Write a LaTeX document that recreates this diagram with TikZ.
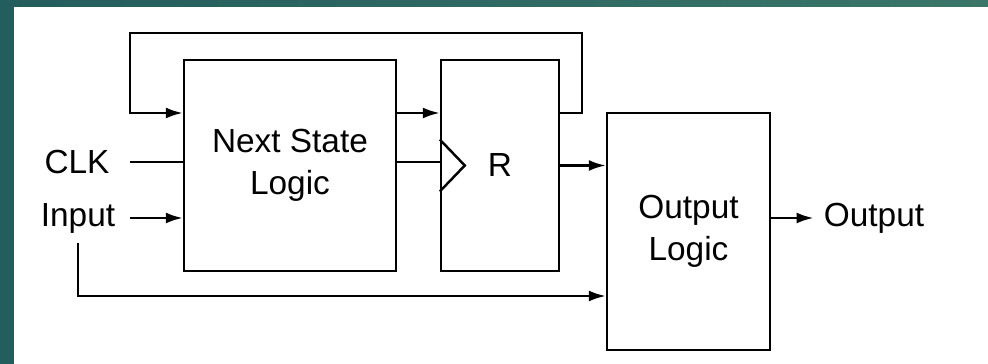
\documentclass[tikz,border=0pt]{standalone}
\usepackage{fontspec}
\setmainfont{Liberation Sans}
\usetikzlibrary{arrows.meta,calc}
\definecolor{tealdark}{HTML}{235D5D}
\definecolor{teallight}{HTML}{3B7669}
\begin{document}
\begin{tikzpicture}[
  x=0.02cm,
  y=-0.02cm,
  blk/.style={draw, line width=1.4pt, inner sep=0pt, align=center, font=\fontsize{19}{24}\selectfont},
  lbl/.style={inner sep=0.2cm, font=\fontsize{19}{24}\selectfont},
  wire/.style={line width=1.4pt},
  arr/.style={wire, -{Latex[length=0.34cm, width=0.22cm]}}
]

% background and page
\shade[left color=tealdark, right color=teallight] (0,0) rectangle (988,364);
\fill[white] (14,7) rectangle (988,364);
\useasboundingbox (0,0) rectangle (988,364);

% blocks
\node[blk, minimum width=4.24cm, minimum height=4.22cm] (NS) at (290,165.5) {Next State\\Logic};
\node[blk, minimum width=2.36cm, minimum height=4.22cm] (R) at (500,165.5) {R};
\node[blk, minimum width=3.26cm, minimum height=4.74cm] (OL) at (688.5,231.5) {Output\\Logic};

% labels
\node[lbl] (CLK) at (77,162) {CLK};
\node[lbl] (Input) at (78,218) {Input};
\node[lbl] (Output) at (874,218) {Output};

% helper points
\coordinate (rail) at (130,33);
\coordinate (fb) at (582,33);
\coordinate (top) at (0,113);
\coordinate (bot) at (0,296);

% clock input of the register
\draw[wire] ($(R.west)+(0,-26)$) -- ($(R.west)+(25,0)$) -- ($(R.west)+(0,26)$);

% connectors
\draw[arr] (R.east |- top) -| (fb) -- (rail) |- (NS.west |- top);
\draw[arr] (NS.east |- top) -- (R.west |- top);
\draw[wire] (rail |- CLK) -- (NS.west |- CLK);
\draw[wire] (NS.east |- CLK) -- (R.west |- CLK);
\draw[arr] (rail |- Input) -- (NS.west |- Input);
\draw[arr] (Input.south) |- (OL.west |- bot);
\draw[arr] (R.east) -- (OL.west |- R.east);
\draw[arr] (OL.east |- Output) -- (Output.west);
\end{tikzpicture}
\end{document}
